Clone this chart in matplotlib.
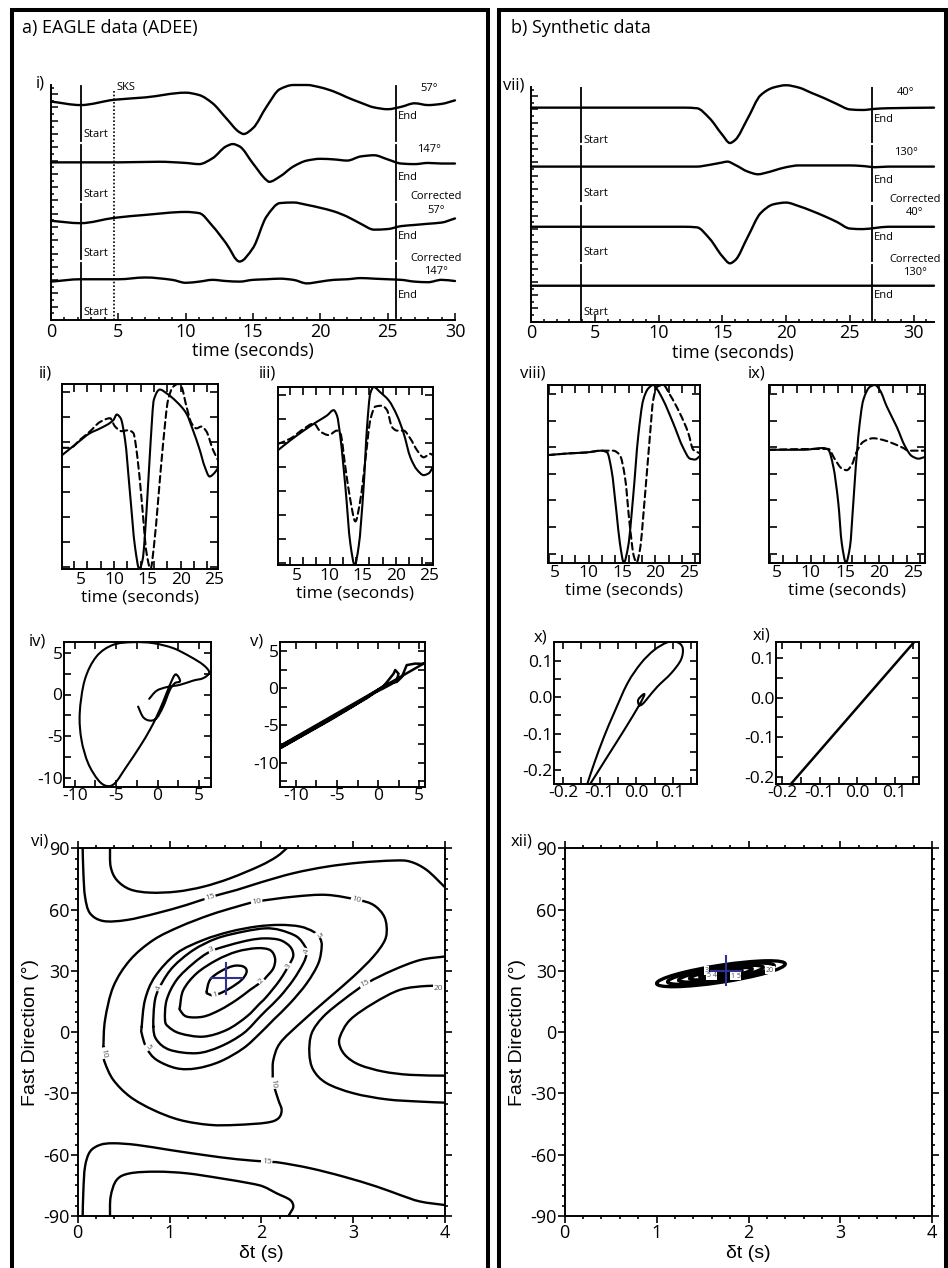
import numpy as np
import matplotlib
matplotlib.use("Agg")
import matplotlib.pyplot as plt
from matplotlib.ticker import MultipleLocator, FixedLocator, FormatStrFormatter
from matplotlib.patches import Rectangle, Ellipse, PathPatch
from matplotlib.path import Path
from matplotlib.transforms import Affine2D

# ===================== DATA =====================
# --- panel i: EAGLE station ADEE, time (s) / amplitude (trace units) ---
t_i_57 = [0, 2.2, 4.7, 7, 10, 11, 12, 13, 14, 14.3, 15, 16, 17, 18, 19, 20, 21, 22, 23, 24, 25, 26, 27, 28, 29, 30]
a_i_57 = [0.03, -0.03, 0.06, 0.10, 0.18, 0.14, 0.0, -0.25, -0.49, -0.52, -0.42, -0.06, 0.24, 0.31, 0.31, 0.27, 0.20, 0.10, 0.01, -0.07, -0.10, -0.06, 0.0, -0.03, -0.01, 0.05]
t_i_147 = [0, 2.2, 5, 8, 10, 11, 12, 13, 13.5, 14, 15, 16, 16.2, 17, 18, 19, 20, 21, 22, 23, 24, 25, 26, 27, 28, 29, 30]
a_i_147 = [0, 0, 0, 0.01, -0.01, -0.03, 0.07, 0.27, 0.31, 0.27, -0.02, -0.30, -0.33, -0.24, -0.07, 0.03, 0.06, 0.05, 0.03, 0.10, 0.12, 0.05, -0.02, -0.03, -0.01, -0.02, -0.02]
t_i_c57 = [0, 2.2, 4.7, 7, 10, 11, 12, 13, 14, 15, 16, 17, 18, 19, 20, 21, 22, 23, 24, 25, 26, 27, 28, 29, 30]
a_i_c57 = [0.01, -0.03, 0.06, 0.11, 0.16, 0.14, -0.08, -0.37, -0.68, -0.45, 0.08, 0.31, 0.32, 0.28, 0.23, 0.17, 0.08, -0.04, -0.14, -0.13, -0.08, -0.06, -0.04, -0.02, 0.05]
t_i_c147 = [0, 2.2, 5, 7, 9, 10, 11, 12, 13, 14, 15, 16, 17, 18, 19, 20, 21, 22, 23, 24, 25, 26, 27, 28, 29, 30]
a_i_c147 = [-0.01, 0.03, 0.03, 0.06, 0.02, -0.03, -0.01, 0.02, 0, -0.01, 0.02, 0.03, 0.04, 0.02, -0.04, -0.01, 0.02, 0.03, 0.05, 0.04, 0.03, 0.02, -0.01, -0.02, 0.02, 0]
labels_i = ["57°", "147°", "Corrected\n57°", "Corrected\n147°"]
window_i = (2.2, 25.6)
sks_time = 4.7

# --- panel vii: synthetic ---
t_vii_40 = [0, 12, 13, 14, 15, 15.6, 16, 17, 18, 19, 20, 21, 22, 23, 24, 25, 26, 27, 28, 31.6]
a_vii_40 = [0, 0, -0.01, -0.18, -0.46, -0.60, -0.55, -0.18, 0.21, 0.34, 0.38, 0.34, 0.25, 0.16, 0.06, -0.03, -0.04, -0.02, -0.01, 0]
t_vii_130 = [0, 13, 14, 15, 15.4, 16, 17, 17.8, 18.5, 19, 20, 21, 22, 24, 25, 26, 27, 28, 31.6]
a_vii_130 = [0, 0, 0.03, 0.07, 0.085, 0.03, -0.085, -0.13, -0.10, -0.07, -0.01, 0.02, 0.02, 0.02, 0.02, 0.01, -0.01, 0, 0]
t_vii_c40 = [0, 12, 13, 14, 15, 15.6, 16, 17, 18, 19, 20, 21, 22, 23, 24, 25, 26, 27, 28, 31.6]
a_vii_c40 = [0, 0, -0.01, -0.2, -0.5, -0.62, -0.57, -0.17, 0.23, 0.38, 0.41, 0.35, 0.27, 0.18, 0.08, -0.03, -0.04, -0.02, 0, 0]
t_vii_c130 = [0, 31.6]
a_vii_c130 = [0, 0]
labels_vii = ["40°", "130°", "Corrected\n40°", "Corrected\n130°"]
window_vii = (3.9, 26.7)

# --- panels ii, iii (EAGLE, normalised) ---
t_ii_s = [2.2, 4.44, 6.43, 7.92, 9.91, 10.41, 11.0, 11.65, 12.4, 13.15, 13.8, 14.29, 14.89, 15.48, 15.98, 16.88, 17.87, 19.36, 20.86, 21.85, 22.85, 23.59, 24.34, 25.09, 25.58]
y_ii_s = [0.23, 0.36, 0.47, 0.52, 0.61, 0.67, 0.63, 0.40, -0.18, -0.76, -1.0, -0.90, -0.36, 0.36, 0.83, 0.94, 0.90, 0.81, 0.68, 0.50, 0.29, 0.11, 0.0, 0.04, 0.09]
t_ii_d = [2.2, 3.44, 4.94, 6.43, 7.92, 9.41, 10.16, 11.16, 12.15, 12.9, 13.49, 14.14, 14.89, 15.48, 15.98, 16.63, 17.37, 18.12, 18.87, 19.61, 20.11, 20.86, 21.6, 22.35, 23.1, 23.84, 24.84, 25.58]
y_ii_d = [0.31, 0.31, 0.40, 0.49, 0.59, 0.63, 0.54, 0.49, 0.50, 0.47, 0.22, -0.25, -0.83, -1.0, -0.76, -0.25, 0.36, 0.83, 0.97, 1.0, 0.97, 0.76, 0.58, 0.52, 0.54, 0.49, 0.29, 0.18]
t_iii_s = [2.2, 4.06, 6.08, 8.09, 9.6, 10.6, 11.1, 11.61, 12.37, 13.12, 13.78, 14.38, 15.13, 15.64, 16.14, 16.64, 17.65, 18.91, 20.17, 21.17, 22.18, 23.19, 24.19, 24.95, 25.6]
y_iii_s = [0.29, 0.40, 0.51, 0.61, 0.68, 0.74, 0.68, 0.44, -0.12, -0.76, -1.0, -0.79, -0.12, 0.55, 0.93, 1.0, 0.94, 0.85, 0.68, 0.48, 0.21, 0.07, 0.01, 0.03, 0.10]
t_iii_d = [2.2, 4.06, 6.08, 7.59, 8.59, 9.85, 11.1, 11.61, 12.37, 13.12, 13.88, 14.63, 15.39, 16.14, 16.9, 17.9, 18.66, 19.41, 20.17, 21.17, 22.18, 23.19, 24.19, 25.2, 25.6]
y_iii_d = [0.36, 0.42, 0.53, 0.59, 0.50, 0.46, 0.51, 0.48, 0.10, -0.27, -0.51, -0.27, 0.18, 0.63, 0.78, 0.79, 0.74, 0.55, 0.51, 0.51, 0.42, 0.29, 0.21, 0.25, 0.23]

# --- panels viii, ix (synthetic, normalised) ---
t_viii_s = [3.9, 7.16, 9.67, 11.92, 12.77, 13.43, 14.18, 14.68, 15.28, 15.92, 16.67, 17.43, 18.18, 18.93, 19.68, 20.19, 21.18, 22.68, 24.19, 25.2, 25.95, 26.7]
y_viii_s = [0.21, 0.23, 0.24, 0.26, 0.24, 0.04, -0.44, -0.78, -1.0, -0.82, -0.26, 0.42, 0.83, 0.96, 1.0, 0.96, 0.83, 0.57, 0.29, 0.17, 0.16, 0.20]
t_viii_d = [3.9, 7.16, 9.67, 11.92, 13.67, 14.68, 15.43, 16.18, 16.78, 17.18, 17.68, 18.43, 19.18, 19.68, 20.28, 21.18, 22.19, 23.69, 24.94, 25.69, 26.7]
y_viii_d = [0.21, 0.23, 0.24, 0.26, 0.26, 0.21, -0.03, -0.59, -0.93, -1.0, -0.86, -0.26, 0.42, 0.83, 0.98, 1.0, 0.89, 0.68, 0.46, 0.27, 0.23]
t_ix_s = [3.9, 8.91, 11.84, 12.57, 13.3, 14.03, 14.53, 15.15, 15.74, 16.22, 16.95, 17.68, 18.66, 19.39, 20.12, 21.1, 22.56, 23.78, 24.76, 25.73, 26.7]
y_ix_s = [0.27, 0.27, 0.29, 0.27, 0.08, -0.33, -0.78, -1.0, -0.82, -0.33, 0.42, 0.83, 0.98, 1.0, 0.94, 0.76, 0.53, 0.31, 0.20, 0.17, 0.19]
t_ix_d = [3.9, 11.35, 12.57, 13.55, 14.53, 15.26, 16.0, 16.72, 17.68, 19.14, 20.6, 22.07, 23.53, 24.26, 25.48, 26.7]
y_ix_d = [0.27, 0.28, 0.28, 0.16, 0.06, 0.04, 0.10, 0.25, 0.36, 0.40, 0.38, 0.34, 0.29, 0.26, 0.26, 0.26]

# --- particle motions ---
pm_iv_x = [-1.01, -0.13, 1.08, 2.70, 4.30, 5.51, 6.24, 5.51, 3.91, 1.89, -0.53, -2.95, -5.37, -7.38, -8.79, -9.40, -9.19, -8.39, -7.18, -6.17, -5.16, -3.75, -2.14, -0.93, -0.12, 0.68, 1.49, 2.09, 2.49, 2.70, 2.09, 1.49, 0.68, -0.12, -0.93, -1.74, -2.35]
pm_iv_y = [-0.52, 0.44, 0.88, 1.16, 1.67, 1.96, 2.64, 3.56, 4.56, 5.56, 6.16, 6.28, 5.96, 4.56, 1.76, -2.24, -5.44, -8.24, -10.25, -10.97, -10.65, -8.65, -6.25, -4.24, -2.65, -0.85, 1.16, 2.36, 2.16, 1.56, 1.36, 0.56, -1.45, -2.84, -3.13, -2.72, -1.45]
pm_v_x = [6.5, 4.5, 3.5, 2.9, 2.3, 1.1, -1.4, -6.0, -12.5, -5.5, -3.0, -0.6, 0.6, 1.7, 2.3, 2.5, 2.1, 1.9, 0.6, -1.4, -5.45, -12.5, 6.5]
pm_v_y = [3.25, 3.3, 3.1, 1.5, 0.85, 0.6, -1.2, -4.3, -8.4, -4.05, -2.4, -0.7, -0.05, 0.6, 1.05, 1.95, 2.45, 1.95, 0.15, -1.35, -3.9, -8.1, 3.9]
pm_x_x = [-0.134, -0.115, -0.088, -0.061, -0.024, 0.013, 0.049, 0.085, 0.113, 0.127, 0.122, 0.095, 0.058, 0.031, 0.017, 0.008, 0.005, 0.017, 0.022, 0.008, -0.033, -0.079, -0.126]
pm_x_y = [-0.238, -0.181, -0.108, -0.044, 0.038, 0.093, 0.129, 0.150, 0.150, 0.134, 0.102, 0.065, 0.029, -0.003, -0.019, -0.022, -0.008, 0.006, 0.006, -0.022, -0.090, -0.163, -0.238]
pm_xi_x = [-0.18, 0.165]
pm_xi_y = [-0.222, 0.155]

# --- panel vi: energy-grid contours (delay time s, fast direction deg) ---
c20a_dt = [0.352, 0.359, 0.425, 0.570, 0.788, 1.078, 1.368, 1.659, 1.985, 2.167, 2.276]
c20a_ph = [90, 81.0, 74.5, 69.9, 68.3, 68.8, 71.2, 75.3, 81.4, 85.9, 90]
c15a_dt = [0.054, 0.062, 0.080, 0.134, 0.280, 0.534, 0.860, 1.187, 1.459, 1.731, 1.985, 2.348, 2.711, 3.074, 3.437, 3.619, 3.800, 3.993]
c15a_ph = [90, 77.8, 66.3, 58.2, 54.4, 54.9, 58.2, 62.3, 66.3, 69.6, 73.2, 77.8, 81.0, 83.0, 84.0, 83.5, 79.4, 71.2]
c10_dt = [0.280, 0.298, 0.388, 0.570, 0.824, 1.114, 1.441, 1.731, 1.949, 2.348, 2.711, 3.056, 3.220, 3.328, 3.364, 3.346, 3.220, 3.002, 2.711, 2.421, 2.203, 2.131, 2.124, 2.131, 2.185, 2.221, 2.185, 2.058, 1.731, 1.441, 1.114, 0.824, 0.570, 0.388, 0.298, 0.280, 0.280]
c10_ph = [-7.1, 6.0, 22.3, 35.3, 45.1, 51.7, 57.4, 61.4, 63.9, 66.3, 67.2, 64.7, 62.3, 57.4, 51.7, 45.1, 37.0, 27.2, 15.8, 4.3, -5.4, -13.6, -20.1, -25.0, -33.2, -38.1, -42.2, -44.3, -45.4, -45.4, -43.0, -38.1, -31.6, -23.4, -15.2, -11.2, -7.1]
c1_dt = [1.405, 1.441, 1.550, 1.695, 1.804, 1.840, 1.786, 1.659, 1.550, 1.477, 1.423, 1.405]
c1_ph = [19.8, 25.6, 29.6, 32.4, 32.1, 29.6, 25.6, 21.5, 19.0, 18.0, 18.7, 19.8]
c2_dt = [1.114, 1.151, 1.296, 1.514, 1.731, 1.949, 2.094, 2.149, 2.131, 2.058, 2.004, 1.877, 1.731, 1.550, 1.368, 1.187, 1.114, 1.114]
c2_ph = [12.5, 20.7, 28.8, 35.3, 39.4, 41.1, 40.2, 36.2, 31.3, 27.2, 24.7, 20.7, 15.8, 10.9, 7.6, 7.6, 10.9, 12.5]
c3_dt = [0.951, 0.969, 1.078, 1.260, 1.441, 1.659, 1.877, 2.040, 2.203, 2.312, 2.348, 2.312, 2.203, 2.058, 1.985, 1.840, 1.623, 1.368, 1.114, 0.987, 0.951]
c3_ph = [6.0, 15.8, 25.6, 33.7, 39.4, 42.7, 45.1, 45.9, 45.1, 41.9, 37.8, 33.7, 25.6, 17.4, 14.1, 7.6, 1.1, -2.2, -0.6, 2.7, 6.0]
c4_dt = [0.824, 0.842, 0.915, 1.042, 1.260, 1.514, 1.804, 2.040, 2.203, 2.385, 2.476, 2.494, 2.457, 2.348, 2.203, 2.058, 1.985, 1.804, 1.550, 1.296, 1.005, 0.860, 0.824]
c4_ph = [2.7, 15.8, 23.9, 32.1, 40.2, 45.9, 49.2, 50.8, 50.0, 46.8, 41.9, 38.6, 33.7, 25.6, 17.4, 10.9, 7.6, -0.6, -7.1, -10.3, -8.7, -3.8, 2.7]
c5_dt = [0.697, 0.733, 0.842, 1.078, 1.368, 1.659, 1.949, 2.203, 2.421, 2.566, 2.639, 2.657, 2.621, 2.494, 2.312, 2.131, 1.985, 1.804, 1.550, 1.296, 1.078, 0.860, 0.751, 0.697, 0.697]
c5_ph = [2.7, 15.8, 27.2, 38.6, 45.1, 49.2, 51.7, 52.5, 51.7, 49.2, 45.9, 41.9, 33.7, 23.9, 14.1, 6.0, -0.6, -7.9, -14.4, -17.7, -17.7, -13.6, -7.9, -0.6, 2.7]
c15b_dt = [3.993, 3.728, 3.437, 3.147, 2.893, 2.675, 2.548, 2.523, 2.566, 2.711, 3.002, 3.365, 3.728, 3.993]
c15b_ph = [37.0, 35.3, 30.4, 23.9, 15.8, 7.6, -0.6, -10.3, -18.5, -25.0, -29.9, -32.9, -34.0, -34.5]
c20b_dt = [3.993, 3.800, 3.510, 3.220, 2.966, 2.857, 2.857, 2.929, 3.074, 3.328, 3.619, 3.993]
c20b_ph = [22.3, 22.6, 20.7, 14.1, 6.0, -2.2, -7.1, -12.0, -16.1, -19.3, -20.9, -21.3]
c15c_dt = [0.054, 0.062, 0.080, 0.134, 0.243, 0.388, 0.642, 1.005, 1.368, 1.731, 2.058, 2.203, 2.530, 2.893, 3.256, 3.510, 3.728, 3.993]
c15c_ph = [-90, -77.2, -65.8, -58.5, -55.2, -54.4, -55.2, -57.7, -60.1, -62.2, -63.4, -63.9, -66.6, -70.7, -75.6, -79.7, -82.9, -84.6]
c20c_dt = [0.352, 0.359, 0.425, 0.570, 0.860, 1.187, 1.550, 1.877, 2.022, 2.167, 2.312, 2.348, 2.312, 2.294]
c20c_ph = [-90, -80.5, -72.3, -69.1, -68.3, -69.1, -71.5, -74.0, -75.6, -78.9, -82.1, -85.4, -88.7, -90]
# contour labels: (dt, phi, text, rotation)
clab_vi = [(1.441, 66.0, "15", 17), (1.949, 63.9, "10", 8), (3.038, 65.0, "10", -15),
           (0.28, -10.3, "10", -80), (2.131, -25.0, "10", -85), (0.770, -7.1, "5", -55),
           (2.621, 47.6, "5", -60), (0.889, 21.5, "4", 70), (2.494, 39.4, "4", 75),
           (1.459, 40.2, "3", 20), (2.294, 32.4, "3", 60), (2.004, 24.7, "2", 45),
           (1.495, 18.2, "1", 15), (3.129, 23.6, "15", 25), (3.928, 21.5, "20", 0),
           (2.058, -63.4, "15", -5)]
best_vi = (1.62, 26.4, 0.17, 7.5)   # dt, phi, +-dt err, +-phi err

# --- panel xii: synthetic grid (thin nested contours) ---
xii_center = (1.70, 28.6)
xii_slope = 6.8            # deg per s
xii_ring_w = [1.40, 1.16, 0.92, 0.68, 0.46, 0.26]
xii_ring_h = [8.4, 6.8, 5.3, 3.9, 2.6, 1.4]
clab_xii = [(1.545, 30.2, "3"), (1.60, 27.6, "5 4"), (1.86, 27.4, "1 5"), (2.234, 30.4, "20")]
best_xii = (1.752, 30.1, 0.163, 7.2)

# ===================== FIGURE =====================
plt.rcParams['font.family'] = ['Open Sans', 'DejaVu Sans']
plt.rcParams['axes.linewidth'] = 1.4
plt.rcParams['axes.unicode_minus'] = False

W, H = 948, 1268
fig = plt.figure(figsize=(W / 100, H / 100), dpi=100)
K = 'black'


def add_ax(l, t, r, b):
    return fig.add_axes([l / W, 1 - b / H, (r - l) / W, (b - t) / H])


def ftext(x, y, s, **kw):
    fig.text(x / W, 1 - y / H, s, **kw)


def add_path(ax, verts, codes, **kw):
    patch = PathPatch(Path(verts, codes), fill=False, capstyle='round',
                      joinstyle='round', **kw)
    ax.add_patch(patch)
    return patch


def curve(ax, x, y, closed=False, **kw):
    """Parametric smooth curve through the read points (Catmull-Rom as cubic Beziers)."""
    P = np.column_stack([x, y]).astype(float)
    if closed:
        if np.allclose(P[0], P[-1]):
            P = P[:-1]
        E = np.vstack([P[-1:], P, P[:2]])
        nseg = len(P)
    else:
        E = np.vstack([P[:1], P, P[-1:]])
        nseg = len(P) - 1
    verts = [E[1]]
    codes = [Path.MOVETO]
    for i in range(nseg):
        p0, p1, p2, p3 = E[i], E[i + 1], E[i + 2], E[i + 3]
        verts += [p1 + (p2 - p0) / 6.0, p2 - (p3 - p1) / 6.0, p2]
        codes += [Path.CURVE4] * 3
    return add_path(ax, verts, codes, **kw)


def fcurve(ax, x, y, **kw):
    """Smooth y(x) line through the read points (shape-preserving Hermite as Beziers)."""
    x = np.asarray(x, float)
    y = np.asarray(y, float)
    h = np.diff(x)
    d = np.diff(y) / h
    n = len(x)
    m = np.zeros(n)
    m[0], m[-1] = d[0], d[-1]
    for i in range(1, n - 1):
        if d[i - 1] * d[i] <= 0:
            m[i] = 0.0
        else:
            w1 = 2 * h[i] + h[i - 1]
            w2 = h[i] + 2 * h[i - 1]
            m[i] = (w1 + w2) / (w1 / d[i - 1] + w2 / d[i])
    verts = [(x[0], y[0])]
    codes = [Path.MOVETO]
    for i in range(n - 1):
        verts += [(x[i] + h[i] / 3, y[i] + m[i] * h[i] / 3),
                  (x[i + 1] - h[i] / 3, y[i + 1] - m[i + 1] * h[i] / 3),
                  (x[i + 1], y[i + 1])]
        codes += [Path.CURVE4] * 3
    return add_path(ax, verts, codes, **kw)


# ---------- stacked seismogram panels ----------
def seis_panel(ax, traces, offsets, xmax, window, seg, labels, lab_pos):
    for (t, a), off in zip(traces, offsets):
        fcurve(ax, t, np.asarray(a) + off, ec=K, lw=1.7, clip_on=False)
        for tw in window:
            ax.plot([tw, tw], [off + seg[0], off + seg[1]], color=K, lw=1.3)
    ax.set_xlim(0, xmax)
    ax.set_ylim(0, 3.98)
    ax.spines['top'].set_visible(False)
    ax.spines['right'].set_visible(False)
    ax.xaxis.set_major_locator(FixedLocator([0, 5, 10, 15, 20, 25, 30]))
    ax.xaxis.set_minor_locator(MultipleLocator(1))
    ax.yaxis.set_major_locator(MultipleLocator(0.225))
    ax.yaxis.set_minor_locator(MultipleLocator(0.1125))
    ax.tick_params(which='both', direction='in', width=1.1)
    ax.tick_params(which='major', length=5)
    ax.tick_params(which='minor', length=2.5)
    ax.tick_params(axis='y', labelleft=False)
    ax.tick_params(axis='x', labelsize=13, pad=2)
    ax.set_xlabel('time (seconds)', fontsize=13, labelpad=1)
    for off, lab, (xs, ys, xe, ye, xl, yl) in zip(offsets, labels, lab_pos):
        ax.text(xs, off + ys, 'Start', fontsize=8, va='center', ha='left')
        ax.text(xe, off + ye, 'End', fontsize=8, va='center', ha='left')
        ax.text(xl, off + yl, lab, fontsize=8, va='center', ha='center',
                linespacing=1.3, clip_on=False)


ax_i = add_ax(51, 85, 455, 320)
off_i = [3.67, 2.67, 1.67, 0.66]
pos_i = [(2.4, -0.53, 25.75, -0.23, 28.1, 0.25),
         (2.4, -0.55, 25.75, -0.25, 28.1, 0.22),
         (2.4, -0.55, 25.75, -0.26, 28.6, 0.30),
         (2.4, -0.54, 25.75, -0.25, 28.6, 0.27)]
seis_panel(ax_i, [(t_i_57, a_i_57), (t_i_147, a_i_147), (t_i_c57, a_i_c57), (t_i_c147, a_i_c147)],
           off_i, 30, window_i, (-0.63, 0.30), labels_i, pos_i)
ax_i.plot([sks_time, sks_time], [0, 3.87], color=K, lw=1.2, ls=(0, (1, 1.2)))
ax_i.text(sks_time + 0.15, 3.93, 'SKS', fontsize=8, va='center', ha='left')

ax_vii = add_ax(531, 87, 934, 321.7)
off_vii = [3.63, 2.63, 1.61, 0.61]
pos_vii = [(4.15, -0.55, 26.85, -0.2, 29.4, 0.26),
           (4.15, -0.45, 26.85, -0.23, 29.4, 0.24),
           (4.15, -0.44, 26.85, -0.18, 30.1, 0.35),
           (4.15, -0.45, 26.85, -0.17, 30.1, 0.33)]
seis_panel(ax_vii, [(t_vii_40, a_vii_40), (t_vii_130, a_vii_130), (t_vii_c40, a_vii_c40),
                    (t_vii_c130, a_vii_c130)],
           off_vii, 31.6, window_vii, (-0.58, 0.35), labels_vii, pos_vii)


# ---------- fast/slow waveform panels ----------
def wave_panel(ax, ts, ys, td, yd, xlim, ytick_step, ytick0):
    fcurve(ax, ts, ys, ec=K, lw=1.5)
    fcurve(ax, td, yd, ec=K, lw=1.5, ls=(0, (3.2, 2)))
    ax.set_xlim(*xlim)
    ax.set_ylim(-1, 1)
    ax.xaxis.set_major_locator(FixedLocator([5, 10, 15, 20, 25]))
    ax.xaxis.set_minor_locator(MultipleLocator(2))
    ax.xaxis.remove_overlapping_locs = False
    ax.yaxis.set_major_locator(FixedLocator(np.arange(ytick0, 1.0, ytick_step)))
    ax.tick_params(which='both', direction='in', top=True, right=True, width=1.2)
    ax.tick_params(axis='x', which='major', length=0, labelsize=12.5, pad=2)
    ax.tick_params(axis='x', which='minor', length=6)
    ax.tick_params(axis='y', which='major', length=6, labelleft=False)
    ax.set_xlabel('time (seconds)', fontsize=12.5, labelpad=1)


ax_ii = add_ax(62, 384, 218, 569)
wave_panel(ax_ii, t_ii_s, y_ii_s, t_ii_d, y_ii_d, (2.2, 25.6), 0.27, -0.98)
ax_iii = add_ax(278, 387, 433, 565)
wave_panel(ax_iii, t_iii_s, y_iii_s, t_iii_d, y_iii_d, (2.2, 25.6), 0.27, -0.98)
ax_viii = add_ax(548, 385, 700, 562.5)
wave_panel(ax_viii, t_viii_s, y_viii_s, t_viii_d, y_viii_d, (3.9, 26.7), 0.30, -0.9)
ax_ix = add_ax(769, 385, 925, 562.5)
wave_panel(ax_ix, t_ix_s, y_ix_s, t_ix_d, y_ix_d, (3.9, 26.7), 0.30, -0.9)


# ---------- particle motion panels ----------
def pm_panel(ax, x, y, xlim, ylim, major, minor, smooth=True):
    if smooth:
        curve(ax, x, y, ec=K, lw=1.5)
    else:
        ax.plot(x, y, color=K, lw=1.8)
    ax.set_xlim(*xlim)
    ax.set_ylim(*ylim)
    for axis in (ax.xaxis, ax.yaxis):
        axis.set_major_locator(MultipleLocator(major))
        axis.set_minor_locator(MultipleLocator(minor))
    ax.tick_params(which='both', direction='in', top=True, right=True, width=1.2, length=5)
    ax.tick_params(which='major', labelsize=12.5, pad=1)


ax_iv = add_ax(64, 642, 211, 787)
pm_panel(ax_iv, pm_iv_x, pm_iv_y, (-11.3, 6.45), (-11.1, 6.3), 5, 2.5)
ax_v = add_ax(280, 642, 425, 787)
pm_panel(ax_v, pm_v_x, pm_v_y, (-11.95, 5.73), (-13.25, 6.2), 5, 2.5, smooth=False)
ax_x = add_ax(554, 642, 697, 784)
pm_panel(ax_x, pm_x_x, pm_x_y, (-0.225, 0.166), (-0.238, 0.151), 0.1, 0.05)
ax_xi = add_ax(776, 642, 919, 784)
pm_panel(ax_xi, pm_xi_x, pm_xi_y, (-0.217, 0.165), (-0.219, 0.141), 0.1, 0.05, smooth=False)
for a in (ax_x, ax_xi):
    a.xaxis.set_major_formatter(FormatStrFormatter('%.1f'))
    a.yaxis.set_major_formatter(FormatStrFormatter('%.1f'))


# ---------- grid-search panels ----------
def grid_panel(ax):
    ax.set_xlim(0, 4)
    ax.set_ylim(-90, 90)
    ax.xaxis.set_major_locator(MultipleLocator(1))
    ax.xaxis.set_minor_locator(MultipleLocator(0.2))
    ax.yaxis.set_major_locator(MultipleLocator(30))
    ax.yaxis.set_minor_locator(MultipleLocator(5))
    ax.tick_params(which='both', direction='out', top=True, right=True, width=1.2)
    ax.tick_params(which='major', length=5, labelsize=13, pad=1)
    ax.tick_params(which='minor', length=2.5)
    ax.set_xlabel('δt (s)', family=['Liberation Sans', 'DejaVu Sans'], fontsize=14, labelpad=2)
    ax.set_ylabel('Fast Direction (°)', family=['Liberation Sans', 'DejaVu Sans'], fontsize=14,
                  labelpad=3)


def cross(ax, best):
    x0, y0, dx, dy = best
    ax.plot([x0 - dx, x0 + dx], [y0, y0], color='#2e3192', lw=1.5, zorder=6)
    ax.plot([x0, x0], [y0 - dy, y0 + dy], color='#2e3192', lw=1.5, zorder=6)


ax_vi = add_ax(77.7, 848.3, 445, 1216)
grid_panel(ax_vi)
for xs, ys, cl in [(c20a_dt, c20a_ph, False), (c15a_dt, c15a_ph, False), (c10_dt, c10_ph, True),
                   (c1_dt, c1_ph, True), (c2_dt, c2_ph, True), (c3_dt, c3_ph, True),
                   (c4_dt, c4_ph, True), (c5_dt, c5_ph, True), (c15b_dt, c15b_ph, False),
                   (c20b_dt, c20b_ph, False), (c15c_dt, c15c_ph, False), (c20c_dt, c20c_ph, False)]:
    curve(ax_vi, xs, ys, closed=cl, ec=K, lw=1.7)
for x, y, s, r in clab_vi:
    ax_vi.text(x, y, s, fontsize=6, color='0.35', rotation=r, ha='center', va='center',
               rotation_mode='anchor', zorder=5,
               bbox=dict(boxstyle='square,pad=0.12', fc='white', ec='none'))
cross(ax_vi, best_vi)

ax_xii = add_ax(564.7, 848.3, 932.3, 1216)
grid_panel(ax_xii)
cx, cy = xii_center
shear = (Affine2D().translate(-cx, -cy).skew(0, np.arctan(xii_slope)).translate(cx, cy)
         + ax_xii.transData)
for w, h in zip(xii_ring_w, xii_ring_h):
    ax_xii.add_patch(Ellipse((cx, cy), w, h, fill=False, ec=K, lw=2.4, transform=shear))
for x, y, s in clab_xii:
    ax_xii.text(x, y, s, fontsize=5, color='0.3', ha='center', va='center', zorder=5,
                bbox=dict(boxstyle='square,pad=0.1', fc='white', ec='none'))
cross(ax_xii, best_xii)

# ---------- panel letters, titles and frames ----------
ftext(22, 28, 'a) EAGLE data (ADEE)', fontsize=13, ha='left', va='center')
ftext(511, 28, 'b) Synthetic data', fontsize=13, ha='left', va='center')
for s, x, y in [('i)', 40, 84), ('vii)', 514, 86), ('ii)', 45, 374), ('iii)', 267, 374),
                ('viii)', 533, 374), ('ix)', 757, 374), ('iv)', 37, 642), ('v)', 257, 642),
                ('x)', 540, 638), ('xi)', 762, 636), ('vi)', 40, 841), ('xii)', 522, 841)]:
    ftext(x, y, s, fontsize=12, ha='center', va='center')

for x0, x1 in [(12, 488), (498.5, 945.5)]:
    fig.add_artist(Rectangle((x0 / W, -0.02), (x1 - x0) / W, 1 - 10 / H + 0.02,
                             transform=fig.transFigure, fill=False, lw=2.9, ec=K))

fig.savefig('out.png', dpi=100)
